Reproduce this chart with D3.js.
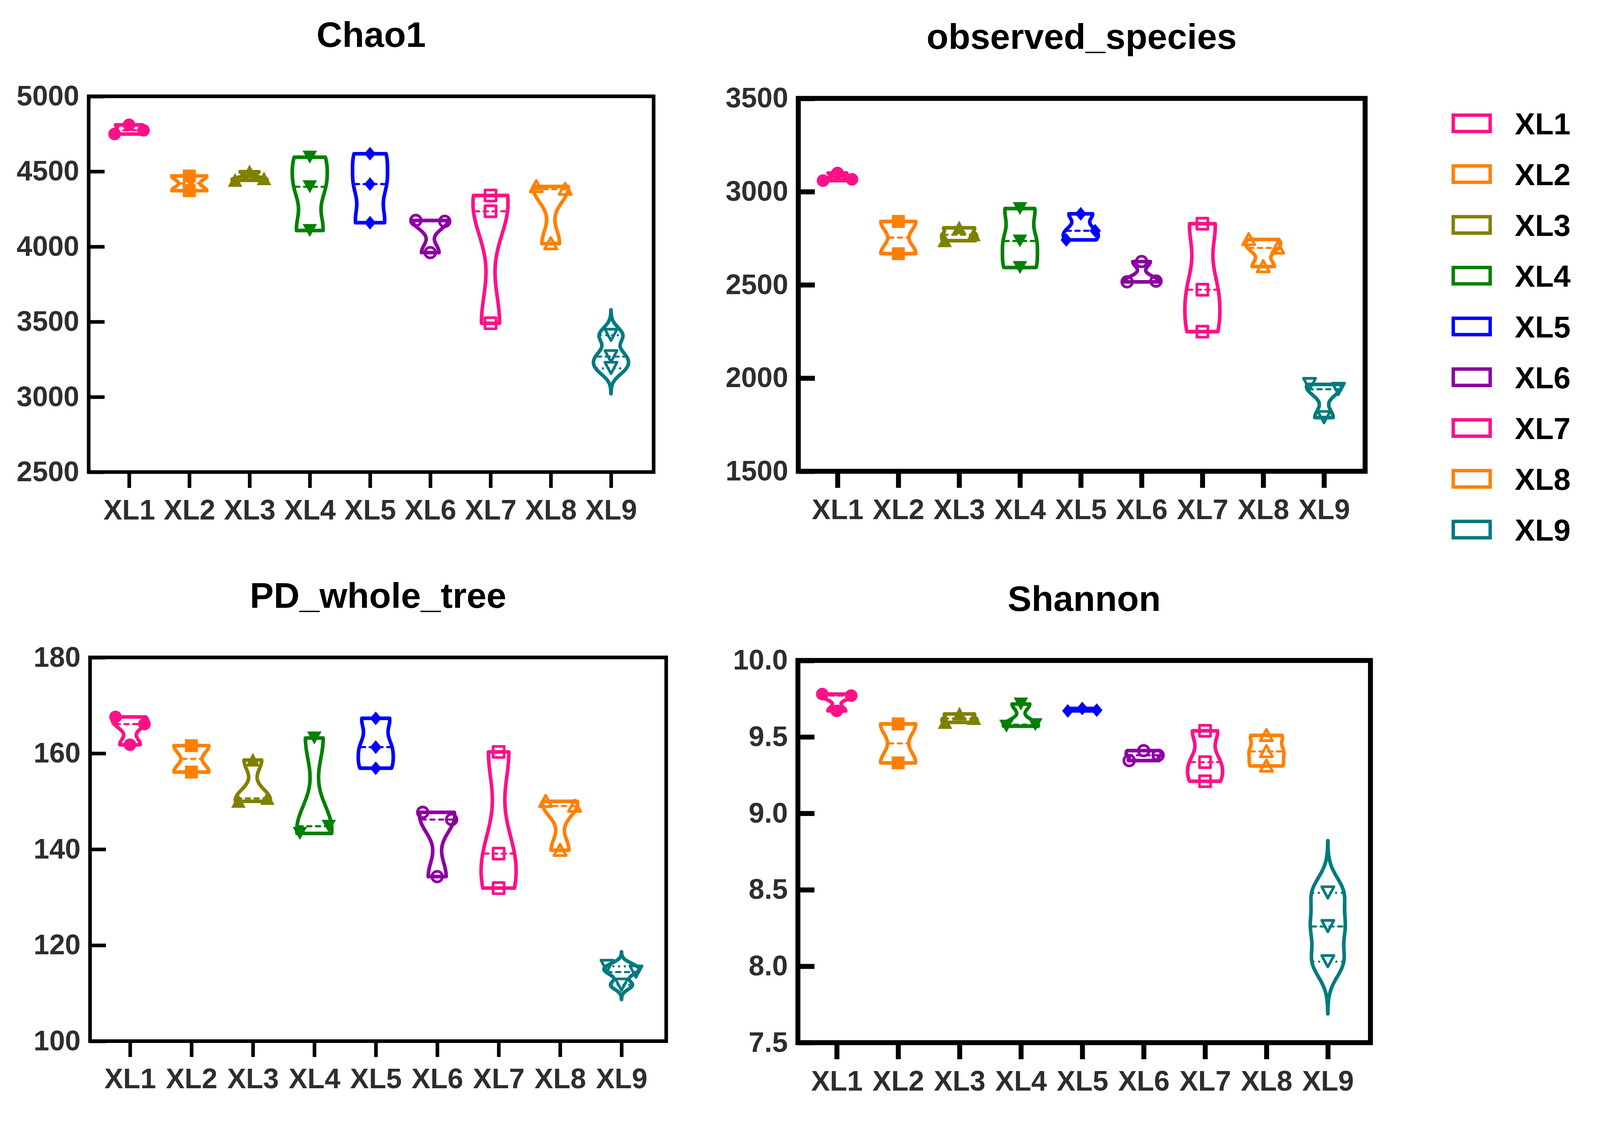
<!DOCTYPE html>
<html>
<head>
<meta charset="utf-8">
<script src="https://cdn.jsdelivr.net/npm/d3@7"></script>
<style>
  html, body { margin: 0; padding: 0; background: #ffffff; width: 100%; height: 100%; overflow: hidden; }
  svg { display: block; }
  text { font-family: Arial, "Liberation Sans", sans-serif; font-weight: bold; }
</style>
</head>
<body>
<script>
// ---------------- DATA ----------------
const categories = ["XL1", "XL2", "XL3", "XL4", "XL5", "XL6", "XL7", "XL8", "XL9"];
const groupColors = ["#FF1088", "#FF8000", "#808000", "#008000", "#0000FF", "#8B00A0", "#FF1088", "#FF8000", "#007A7F"];
const groupMarkers = ["circle", "square", "triangleUp", "triangleDown", "diamond", "openCircle", "openSquare", "openTriangleUp", "openTriangleDown"];

const chao1Values = [
  [4749, 4810, 4774],
  [4470, 4372],
  [4441, 4498, 4452],
  [4595, 4398, 4107],
  [4618, 4416, 4159],
  [4174, 4168, 3960],
  [4340, 4235, 3490],
  [4400, 4382, 4020],
  [3410, 3268, 3190]
];
const chao1Ticks = [2500, 3000, 3500, 4000, 4500, 5000];

const observedValues = [
  [3059, 3100, 3066],
  [2840, 2667],
  [2737, 2806, 2769],
  [2909, 2735, 2593],
  [2741, 2881, 2790],
  [2516, 2625, 2520],
  [2828, 2474, 2249],
  [2743, 2698, 2598],
  [1966, 1940, 1788]
];
const observedTicks = [1500, 2000, 2500, 3000, 3500];

const pdValues = [
  [167.6, 166.1, 161.8],
  [161.6, 156.1],
  [158.6, 150.0, 150.6],
  [163.2, 143.3, 144.8],
  [167.3, 161.3, 156.9],
  [147.7, 146.2, 134.3],
  [160.3, 139.1, 131.9],
  [150.0, 149.0, 139.8],
  [115.6, 114.4, 111.7]
];
const pdTicks = [100, 120, 140, 160, 180];

const shannonValues = [
  [9.78, 9.77, 9.67],
  [9.585, 9.33],
  [9.595, 9.65, 9.62],
  [9.715, 9.57, 9.58],
  [9.670, 9.686, 9.675],
  [9.345, 9.41, 9.38],
  [9.54, 9.335, 9.21],
  [9.51, 9.405, 9.31],
  [8.48, 8.26, 8.03]
];
const shannonTicks = [7.5, 8.0, 8.5, 9.0, 9.5, 10.0];

// groups whose violins are drawn with free (untruncated) tails
const chao1Untruncated = ["XL9"];
const observedUntruncated = [];
const pdUntruncated = ["XL9"];
const shannonUntruncated = ["XL9"];

// ---------------- LAYOUT ----------------
const W = 4203, H = 2898;
const panels = [
  { title: "Chao1", values: chao1Values, ticks: chao1Ticks, domain: [2500, 5000], fmt: d3.format("d"), untrunc: chao1Untruncated,
    left: 233, right: 1717, top: 253, bottom: 1240, xFirst: 339, xLast: 1605, sw: 9.5 },
  { title: "observed_species", values: observedValues, ticks: observedTicks, domain: [1500, 3500], fmt: d3.format("d"), untrunc: observedUntruncated,
    left: 2097, right: 3586, top: 258.5, bottom: 1238, xFirst: 2200, xLast: 3478, sw: 13 },
  { title: "PD_whole_tree", values: pdValues, ticks: pdTicks, domain: [100, 180], fmt: d3.format("d"), untrunc: pdUntruncated,
    left: 236.5, right: 1750, top: 1727, bottom: 2735, xFirst: 341.5, xLast: 1632.6, sw: 9.5 },
  { title: "Shannon", values: shannonValues, ticks: shannonTicks, domain: [7.5, 10], fmt: d3.format(".1f"), untrunc: shannonUntruncated,
    left: 2096, right: 3600, top: 1735, bottom: 2739, xFirst: 2198, xLast: 3488, sw: 13 }
];

const HALF_W = 46;        // max half width of a violin (px)
const BW_FACTOR = 0.46;   // kernel bandwidth relative to SD
const TAIL = 3.3;         // tail extent in bandwidths for untruncated violins
const CLUSTER_PX = 28;    // points closer than this (vertically) get spread
const SLOT_PX = 38;       // horizontal spread step
const TICK_FONT = 74;

const svg = d3.select("body").append("svg")
  .attr("width", "100vw").attr("height", "100vh")
  .attr("viewBox", `0 0 ${W} ${H}`)
  .attr("preserveAspectRatio", "xMinYMin meet");

svg.append("rect").attr("width", W).attr("height", H).attr("fill", "#ffffff");

function markerPath(type) {
  const p = d3.path();
  if (type === "circle") { p.arc(0, 0, 16.5, 0, 2 * Math.PI); }
  else if (type === "openCircle") { p.arc(0, 0, 14, 0, 2 * Math.PI); }
  else if (type === "square") { p.rect(-17, -17, 34, 34); }
  else if (type === "openSquare") { p.rect(-14.5, -14.5, 29, 29); }
  else if (type === "triangleUp") { p.moveTo(0, -19); p.lineTo(19, 17); p.lineTo(-19, 17); p.closePath(); }
  else if (type === "triangleDown") { p.moveTo(0, 17); p.lineTo(19, -17); p.lineTo(-19, -17); p.closePath(); }
  else if (type === "openTriangleUp") { p.moveTo(0, -16); p.lineTo(16, 14); p.lineTo(-16, 14); p.closePath(); }
  else if (type === "openTriangleDown") { p.moveTo(0, 14); p.lineTo(16, -16); p.lineTo(-16, -16); p.closePath(); }
  else if (type === "diamond") { p.moveTo(0, -18); p.lineTo(15, 0); p.lineTo(0, 18); p.lineTo(-15, 0); p.closePath(); }
  return p.toString();
}

function quantileN1(sorted, q) {
  // (n+1)p percentile definition
  const n = sorted.length;
  let pos = q * (n + 1);
  if (pos <= 1) return sorted[0];
  if (pos >= n) return sorted[n - 1];
  const lo = Math.floor(pos), f = pos - lo;
  return sorted[lo - 1] + f * (sorted[lo] - sorted[lo - 1]);
}

function spreadOffsets(vals, y) {
  const n = vals.length;
  const order = d3.range(n).sort((a, b) => vals[b] - vals[a]);
  const clusters = [];
  let cur = [order[0]];
  for (let k = 1; k < n; k++) {
    if (Math.abs(y(vals[order[k]]) - y(vals[order[k - 1]])) < CLUSTER_PX) cur.push(order[k]);
    else { clusters.push(cur); cur = [order[k]]; }
  }
  clusters.push(cur);
  const off = new Array(n).fill(0);
  clusters.forEach(c => {
    c.sort((a, b) => a - b);
    const m = c.length;
    const slots = m === 1 ? [0] : m === 2 ? [-1, 1] : d3.range(m).map(i => i - (m - 1) / 2);
    c.forEach((ii, j) => { off[ii] = slots[j] * SLOT_PX; });
  });
  return off;
}

panels.forEach(P => {
  const g = svg.append("g");
  const y = d3.scaleLinear().domain(P.domain).range([P.bottom, P.top]);
  const x = d3.scalePoint().domain(categories).range([P.xFirst, P.xLast]).padding(0);

  // title
  g.append("text")
    .attr("x", (P.left + P.right) / 2).attr("y", P.top - 130)
    .attr("text-anchor", "middle")
    .attr("font-size", 94).attr("fill", "#000")
    .text(P.title);

  // violins
  categories.forEach((cat, i) => {
    const vals = P.values[i];
    const color = groupColors[i];
    const sorted = vals.slice().sort((a, b) => a - b);
    const sd = d3.deviation(vals) || 1e-6;
    const h = Math.max(BW_FACTOR * sd, 1e-9);
    const dens = v => d3.sum(vals, xv => Math.exp(-0.5 * ((v - xv) / h) ** 2));
    const untr = P.untrunc.includes(cat);
    const lo = untr ? sorted[0] - TAIL * h : sorted[0];
    const hi = untr ? sorted[sorted.length - 1] + TAIL * h : sorted[sorted.length - 1];
    const N = 160;
    const samples = d3.range(N + 1).map(k => lo + (hi - lo) * k / N);
    const maxD = d3.max(samples, dens);
    const cx = x(cat);
    const wOf = v => dens(v) / maxD * HALF_W;

    const area = d3.area()
      .y(v => y(v))
      .x0(v => cx - wOf(v))
      .x1(v => cx + wOf(v))
      .curve(d3.curveLinear);

    g.append("path")
      .attr("d", area(samples))
      .attr("fill", "none")
      .attr("stroke", color)
      .attr("stroke-width", 9.5)
      .attr("stroke-linejoin", "round")
      .attr("stroke-linecap", "round");

    // quartiles (dotted) and median (dashed)
    const q1 = quantileN1(sorted, 0.25), q3 = quantileN1(sorted, 0.75), med = d3.median(sorted);
    [q1, q3].forEach(q => {
      const w = wOf(q) - 4;
      g.append("line")
        .attr("x1", cx - w).attr("x2", cx + w)
        .attr("y1", y(q)).attr("y2", y(q))
        .attr("stroke", color).attr("stroke-width", 6)
        .attr("stroke-linecap", "round")
        .attr("stroke-dasharray", "0.1 15");
    });
    const wm = wOf(med) - 4;
    g.append("line")
      .attr("x1", cx - wm).attr("x2", cx + wm)
      .attr("y1", y(med)).attr("y2", y(med))
      .attr("stroke", color).attr("stroke-width", 5.5)
      .attr("stroke-linecap", "round")
      .attr("stroke-dasharray", "11 12");

    // points
    const offs = spreadOffsets(vals, y);
    const mtype = groupMarkers[i];
    const open = mtype.startsWith("open");
    vals.forEach((v, k) => {
      g.append("path")
        .attr("d", markerPath(mtype))
        .attr("transform", `translate(${cx + offs[k]},${y(v)})`)
        .attr("fill", open ? "none" : color)
        .attr("stroke", open ? color : "none")
        .attr("stroke-width", open ? 7 : 0)
        .attr("stroke-linejoin", "round");
    });
  });

  // frame
  g.append("rect")
    .attr("x", P.left).attr("y", P.top)
    .attr("width", P.right - P.left).attr("height", P.bottom - P.top)
    .attr("fill", "none").attr("stroke", "#000").attr("stroke-width", P.sw)
    .attr("stroke-linejoin", "miter");

  // y axis (inward ticks)
  const yAxis = d3.axisLeft(y).tickValues(P.ticks).tickFormat(P.fmt)
    .tickSizeInner(-(37 + P.sw / 2)).tickSizeOuter(0).tickPadding(20 + P.sw / 2);
  const gy = g.append("g").attr("transform", `translate(${P.left},0)`).call(yAxis);
  gy.select(".domain").remove();
  gy.selectAll(".tick line").attr("stroke", "#000").attr("stroke-width", P.sw);
  gy.selectAll(".tick text")
    .attr("font-size", TICK_FONT).attr("fill", "#2e2e2e")
    .attr("font-family", "Arial, 'Liberation Sans', sans-serif").attr("font-weight", "bold");

  // x axis (outward ticks)
  const xAxis = d3.axisBottom(x).tickSizeInner(37 + P.sw / 2).tickSizeOuter(0).tickPadding(30);
  const gx = g.append("g").attr("transform", `translate(0,${P.bottom})`).call(xAxis);
  gx.select(".domain").remove();
  gx.selectAll(".tick line").attr("stroke", "#000").attr("stroke-width", P.sw);
  gx.selectAll(".tick text")
    .attr("font-size", TICK_FONT).attr("fill", "#2e2e2e")
    .attr("font-family", "Arial, 'Liberation Sans', sans-serif").attr("font-weight", "bold");
});

// legend
const legendY = d3.scalePoint().domain(categories).range([324, 324 + 8 * 133.4]);
const lg = svg.append("g");
categories.forEach((cat, i) => {
  const cy = legendY(cat);
  lg.append("rect")
    .attr("x", 3817.5).attr("y", cy - 21.5)
    .attr("width", 97).attr("height", 43)
    .attr("fill", "none").attr("stroke", groupColors[i]).attr("stroke-width", 9);
  lg.append("text")
    .attr("x", 3979).attr("y", cy + 29)
    .attr("font-size", 80).attr("fill", "#000")
    .text(cat);
});
</script>
</body>
</html>
